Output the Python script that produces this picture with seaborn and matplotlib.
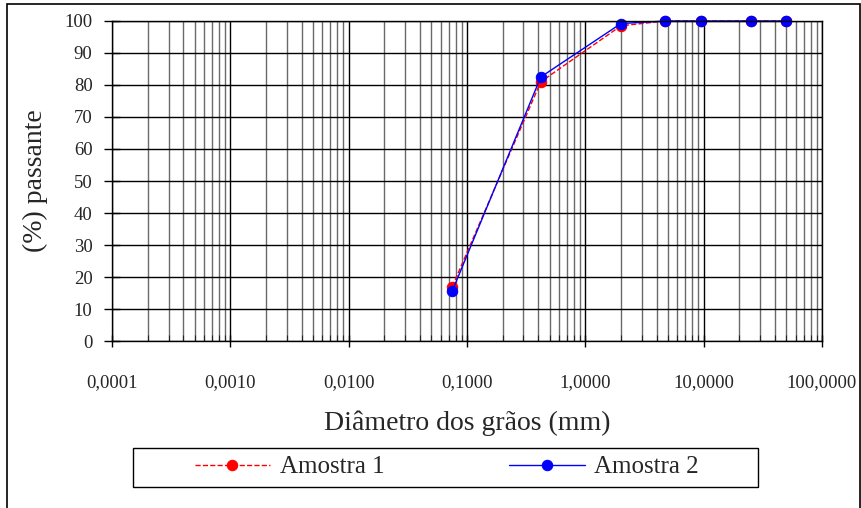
import numpy as np
import pandas as pd
import matplotlib
matplotlib.use('Agg')
import matplotlib.pyplot as plt
import matplotlib.ticker as mticker
from matplotlib.patches import Rectangle
import seaborn as sns

# Grain size distribution data
diametro = [0.075, 0.42, 2.0, 4.75, 9.5, 25.0, 50.0]
amostra_1 = [17.0, 81.0, 98.5, 100.0, 100.0, 100.0, 100.0]
amostra_2 = [15.6, 82.5, 99.2, 100.0, 100.0, 100.0, 100.0]

x_ticks = [0.0001, 0.001, 0.01, 0.1, 1, 10, 100]
x_tick_labels = ['0,0001', '0,0010', '0,0100', '0,1000', '1,0000', '10,0000', '100,0000']
y_ticks = list(range(0, 101, 10))

df = pd.DataFrame({'d': diametro, 'a1': amostra_1, 'a2': amostra_2})

sns.set_style('white')
plt.rcParams['font.family'] = ['Liberation Serif', 'DejaVu Serif']

fig = plt.figure(figsize=(8.62, 5.08), dpi=100)
ax = fig.add_axes([0.13, 0.3287, 0.8236, 0.63])

sns.lineplot(data=df, x='d', y='a1', ax=ax, color='red', linestyle='--', linewidth=1,
             marker='o', markersize=7.5, markeredgecolor='red', label='Amostra 1', clip_on=False)
sns.lineplot(data=df, x='d', y='a2', ax=ax, color='blue', linestyle='-', linewidth=1,
             marker='o', markersize=7.5, markeredgecolor='blue', label='Amostra 2', clip_on=False)

ax.set_xscale('log')
ax.set_xlim(0.0001, 100)
ax.set_ylim(0, 100)

ax.xaxis.set_major_locator(mticker.FixedLocator(x_ticks))
ax.xaxis.set_major_formatter(mticker.FixedFormatter(x_tick_labels))
ax.xaxis.set_minor_locator(mticker.LogLocator(base=10, subs=np.arange(2, 10), numticks=20))
ax.xaxis.set_minor_formatter(mticker.NullFormatter())
ax.set_yticks(y_ticks)

# grid like the spreadsheet chart
ax.grid(True, which='major', axis='both', color='black', linewidth=1)
ax.grid(True, which='minor', axis='x', color='#6a6a6a', linewidth=1)
ax.set_axisbelow(True)

for side in ['top', 'right']:
    ax.spines[side].set_visible(True)
for sp in ax.spines.values():
    sp.set_color('black')
    sp.set_linewidth(1)

ax.tick_params(axis='x', which='major', direction='inout', length=8, width=1,
               labelsize=13.5, pad=20, bottom=True, color='black')
ax.tick_params(axis='x', which='minor', direction='in', length=4, width=0.8, bottom=True)
ax.tick_params(axis='y', which='major', direction='inout', length=12, width=1,
               labelsize=13.5, pad=8, left=True, color='black')

ax.set_xlabel('Diâmetro dos grãos (mm)', fontsize=20, labelpad=14)
ax.set_ylabel('(%) passante', fontsize=20, labelpad=12)

# legend below the plot, with its own rectangular box
handles, labels = ax.get_legend_handles_labels()
ax.get_legend().remove()
fig.legend(handles, labels, loc='center', bbox_to_anchor=(447 / 862, 1 - 467 / 508),
           ncol=2, frameon=False, fontsize=18, handlelength=3.0, handletextpad=0.4,
           columnspacing=5.0)
fig.patches.append(Rectangle((133 / 862, 1 - 487 / 508), (758 - 133) / 862, 39 / 508,
                             transform=fig.transFigure, fill=False, edgecolor='black',
                             linewidth=1))

# outer chart border
fig.patches.append(Rectangle((7 / 862, -0.1), (860 - 7) / 862, 1.1 - 4 / 508,
                             transform=fig.transFigure, fill=False, edgecolor='black',
                             linewidth=1.2))

fig.savefig('out.png', dpi=100)
